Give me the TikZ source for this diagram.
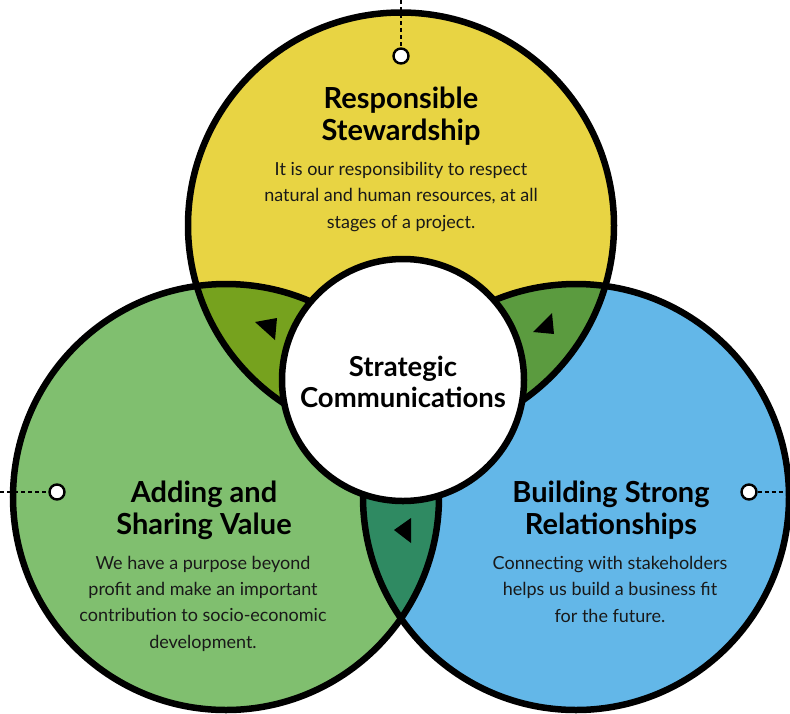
\documentclass[tikz,border=0pt]{standalone}
\usepackage{fontspec}
\setmainfont{Lato}
\definecolor{cyellow}{HTML}{E8D443}
\definecolor{cgreen}{HTML}{80BF6F}
\definecolor{cblue}{HTML}{63B7E8}
\definecolor{lensL}{HTML}{76A21E}
\definecolor{lensR}{HTML}{5B9B3F}
\definecolor{lensB}{HTML}{2F8A62}
\tikzset{
  ring/.style={draw=black, line width=6.5pt},
  dotnode/.style={circle, draw=black, fill=white, line width=2.4pt, minimum size=15pt, inner sep=0pt},
  dashline/.style={draw=black, line width=1.4pt, dash pattern=on 4pt off 3pt},
  titletext/.style={align=center, font=\fontsize{29}{31.5}\selectfont\bfseries, text=black, inner sep=0pt, anchor=base},
  bodytext/.style={align=center, font=\fontsize{18}{26.3}\selectfont, text=black!90, inner sep=0pt, anchor=base},
  centertext/.style={align=center, font=\fontsize{27.5}{31}\selectfont\bfseries, text=black, inner sep=0pt, anchor=base},
  arrowtri/.style={fill=black}
}
\begin{document}
\begin{tikzpicture}[x=1pt,y=-1pt]
\useasboundingbox (0,0) rectangle (790,713);
\clip (0,0) rectangle (790,713);
\def\R{213}
\coordinate (cT) at (401,225.5);
\coordinate (cL) at (226,497);
\coordinate (cR) at (576,497);
\coordinate (cC) at (403,380);
% circle fills
\fill[cyellow] (cT) circle (\R);
\fill[cgreen] (cL) circle (\R);
\fill[cblue] (cR) circle (\R);
% lens fills
\begin{scope}
  \clip (cT) circle (\R);
  \fill[lensL] (cL) circle (\R);
\end{scope}
\begin{scope}
  \clip (cT) circle (\R);
  \fill[lensR] (cR) circle (\R);
\end{scope}
\begin{scope}
  \clip (cL) circle (\R);
  \fill[lensB] (cR) circle (\R);
\end{scope}
% outlines
\draw[ring] (cT) circle (\R);
\draw[ring] (cL) circle (\R);
\draw[ring] (cR) circle (\R);
% centre
\fill[white] (cC) circle (121);
\draw[ring] (cC) circle (121);
% arrow triangles
\fill[arrowtri] (255,322) -- (277,318) -- (275,340) -- cycle;
\fill[arrowtri] (533,332) -- (552,313) -- (554,334) -- cycle;
\fill[arrowtri] (394,530) -- (411,518) -- (411,543) -- cycle;
% connectors
\coordinate (eT) at (401,0);
\coordinate (eL) at (0,492);
\coordinate (eR) at (790,492);
\node[dotnode] (dT) at (401,56) {};
\node[dotnode] (dL) at (57,492) {};
\node[dotnode] (dR) at (749,492) {};
\draw[dashline] (eT) -- (dT.north);
\draw[dashline] (eL) -- (dL.west);
\draw[dashline] (dR.east) -- (eR);
% texts (base anchor = baseline of last line)
\node[titletext] (tT) at (401,140) {Responsible\\Stewardship};
\node[bodytext] (bT) at (401,228) {It is our responsibility to respect\\natural and human resources, at all\\stages of a project.};
\node[titletext] (tL) at (204,534) {Adding and\\Sharing Value};
\node[bodytext] (bL) at (203,648) {We have a purpose beyond\\profit and make an important\\contribution to socio-economic\\development.};
\node[titletext] (tR) at (611,534) {Building Strong\\Relationships};
\node[bodytext] (bR) at (610,622) {Connecting with stakeholders\\helps us build a business fit\\for the future.};
\node[centertext] (tC) at (403,407) {Strategic\\Communications};
\end{tikzpicture}
\end{document}
